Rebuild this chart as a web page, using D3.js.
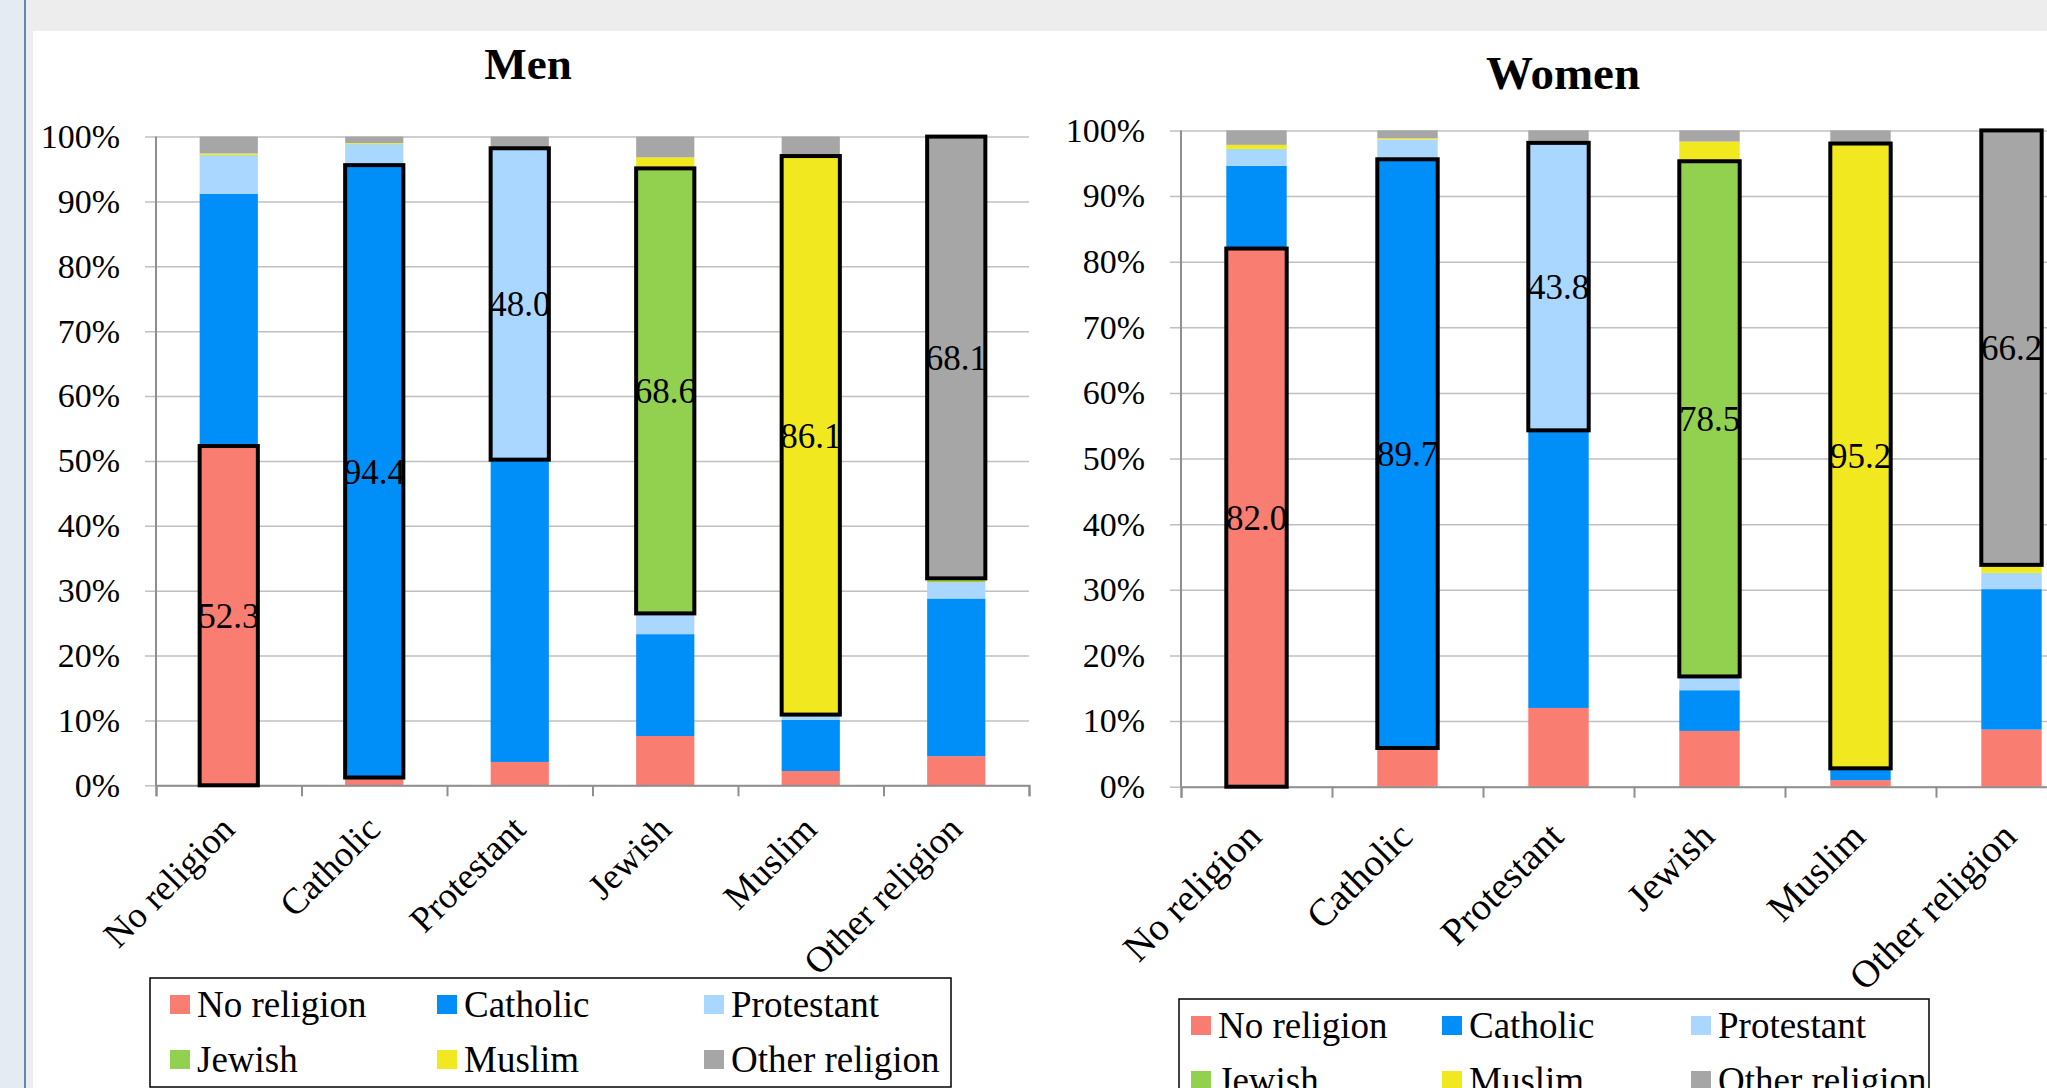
<!DOCTYPE html>
<html>
<head>
<meta charset="utf-8">
<script src="https://cdn.jsdelivr.net/npm/d3@7"></script>
<style>
  body { margin: 0; background: #fff; }
  svg, svg text { font-family: "Liberation Serif", "Times New Roman", serif; }
  svg { display: block; }
</style>
</head>
<body>
<div id="chart"></div>
<script>
// categories (x axis) - the same list is used for the stacked series
var categories = ["No religion", "Catholic", "Protestant", "Jewish", "Muslim", "Other religion"];
var colors = ["#fa7d71", "#008ef8", "#a9d7ff", "#92d050", "#f1e820", "#a6a6a6"];
var yTicks = [0, 10, 20, 30, 40, 50, 60, 70, 80, 90, 100];

// Men: share (%) of each religion, one array per stacked series
var menNoReligion = [52.3, 1.2, 3.6, 7.6, 2.2, 4.5];
var menCatholic   = [38.9, 94.4, 46.6, 15.7, 7.9, 24.3];
var menProtestant = [5.9, 3.2, 48.0, 3.2, 0.8, 2.5];
var menJewish     = [0.1, 0.1, 0.1, 68.6, 0.0, 0.2];
var menMuslim     = [0.2, 0.1, 0.1, 1.7, 86.1, 0.4];
var menOther      = [2.6, 1.0, 1.6, 3.2, 3.0, 68.1];

// Women
var womenNoReligion = [82.0, 5.9, 12.0, 8.5, 1.0, 8.7];
var womenCatholic   = [12.6, 89.7, 42.3, 6.2, 1.8, 21.4];
var womenProtestant = [2.5, 3.0, 43.8, 2.1, 0.0, 2.4];
var womenJewish     = [0.1, 0.0, 0.0, 78.5, 0.0, 0.1];
var womenMuslim     = [0.6, 0.2, 0.2, 3.0, 95.2, 1.2];
var womenOther      = [2.2, 1.2, 1.7, 1.7, 2.0, 66.2];

var W = 2047, H = 1088;

var svg = d3.select("#chart")
  .append("svg")
    .attr("width", W)
    .attr("height", H);

// page background, side bar and white chart sheet
svg.append("rect").attr("width", W).attr("height", H).attr("fill", "#ededed");
svg.append("rect").attr("width", 24).attr("height", H).attr("fill", "#e4ebf2");
svg.append("rect").attr("x", 24).attr("width", 2).attr("height", H).attr("fill", "#6186b0");
svg.append("rect").attr("x", 33).attr("y", 31).attr("width", W - 33).attr("height", H - 31).attr("fill", "#fff");

function drawPanel(p) {
  var g = svg.append("g");

  // build rows for the stack
  var rows = categories.map(function(c, i) {
    var row = {cat: c};
    categories.forEach(function(s, j) { row[s] = p.series[j][i]; });
    return row;
  });
  var stacked = d3.stack().keys(categories)(rows);

  var x = d3.scaleBand()
    .domain(categories)
    .range([p.x0, p.x1])
    .paddingInner(0.6)
    .paddingOuter(0.3);

  var y = d3.scaleLinear()
    .domain([0, 100])
    .range([p.yBottom, p.yTop]);

  // gridlines + y labels
  var yAxis = d3.axisLeft(y)
    .tickValues(yTicks)
    .tickFormat(function(d) { return d + "%"; })
    .tickSize(-(p.x1 - p.x0 + 11))
    .tickPadding(25);

  g.append("g")
    .attr("transform", "translate(" + (p.x0 - 11) + ",0)")
    .call(yAxis)
    .attr("font-family", null)
    .attr("font-size", null)
    .call(function(a) { a.select(".domain").remove(); })
    .call(function(a) { a.selectAll("line").attr("stroke", "#c0c0c0").attr("stroke-width", 1.5); })
    .call(function(a) { a.selectAll("text").attr("fill", "#000").style("font-size", "34px"); });

  // stacked bars
  g.selectAll(".layer")
    .data(stacked)
    .enter().append("g")
      .attr("fill", function(d, i) { return colors[i]; })
    .selectAll("rect")
    .data(function(d) { return d; })
    .enter().append("rect")
      .attr("x", function(d) { return x(d.data.cat); })
      .attr("y", function(d) { return y(d[1]); })
      .attr("width", x.bandwidth())
      .attr("height", function(d) { return y(d[0]) - y(d[1]); });

  // axis lines
  g.append("line")
    .attr("x1", p.x0).attr("x2", p.x0)
    .attr("y1", p.yTop).attr("y2", p.yBottom)
    .attr("stroke", "#8f8f8f").attr("stroke-width", 2);

  var xTicks = d3.scaleLinear().domain([0, categories.length]).range([p.x0, p.x1]);
  g.append("g")
    .attr("transform", "translate(0," + p.yBottom + ")")
    .call(d3.axisBottom(xTicks).tickValues(d3.range(categories.length + 1)).tickSize(11).tickFormat(""))
    .call(function(a) { a.selectAll("line,path").attr("stroke", "#8f8f8f").attr("stroke-width", 2); });

  // highlighted segment: series i inside category i
  var own = categories.map(function(c, i) { return stacked[i][i]; });
  g.selectAll(".own")
    .data(own)
    .enter().append("rect")
      .attr("x", function(d) { return x(d.data.cat); })
      .attr("y", function(d) { return y(d[1]); })
      .attr("width", x.bandwidth())
      .attr("height", function(d) { return y(d[0]) - y(d[1]); })
      .attr("fill", function(d, i) { return colors[i]; })
      .attr("stroke", "#000")
      .attr("stroke-width", 4);

  g.selectAll(".val")
    .data(own)
    .enter().append("text")
      .attr("x", function(d) { return x(d.data.cat) + x.bandwidth() / 2; })
      .attr("y", function(d) { return (y(d[0]) + y(d[1])) / 2; })
      .attr("dy", "0.35em")
      .attr("text-anchor", "middle")
      .attr("font-size", 35)
      .text(function(d) { return d3.format(".1f")(d[1] - d[0]); });

  // category labels, rotated
  g.selectAll(".cat")
    .data(categories)
    .enter().append("text")
      .attr("text-anchor", "end")
      .attr("font-size", p.catSize)
      .attr("transform", function(d) {
        return "translate(" + (x(d) + x.bandwidth() / 2 + p.catDx) + "," + (p.yBottom + p.catDy) + ") rotate(-45)";
      })
      .text(function(d) { return d; });

  // title
  g.append("text")
    .attr("x", p.titleX)
    .attr("y", p.titleY)
    .attr("text-anchor", "middle")
    .attr("font-weight", "bold")
    .attr("font-size", p.titleSize)
    .text(p.title);

  // legend
  var L = p.legend;
  g.append("rect")
    .attr("x", L.x).attr("y", L.y)
    .attr("width", L.w).attr("height", L.h)
    .attr("fill", "#fff").attr("stroke", "#000").attr("stroke-width", 1.5);

  var items = g.selectAll(".leg")
    .data(categories)
    .enter().append("g")
      .attr("transform", function(d, i) {
        return "translate(" + (L.x + L.cols[i % 3]) + "," + L.rows[Math.floor(i / 3)] + ")";
      });
  items.append("rect")
    .attr("y", -10).attr("width", 20).attr("height", 19)
    .attr("fill", function(d, i) { return colors[i]; });
  items.append("text")
    .attr("x", 27)
    .attr("dy", "0.33em")
    .attr("font-size", 37)
    .text(function(d) { return d; });
}

drawPanel({
  title: "Men",
  series: [menNoReligion, menCatholic, menProtestant, menJewish, menMuslim, menOther],
  x0: 156, x1: 1029, yTop: 136.6, yBottom: 785.3,
  titleX: 528, titleY: 79, titleSize: 45,
  catSize: 36.5, catDx: 8, catDy: 46,
  legend: {x: 150, y: 978, w: 801, h: 109, cols: [20, 287, 554], rows: [1005, 1060]}
});

drawPanel({
  title: "Women",
  series: [womenNoReligion, womenCatholic, womenProtestant, womenJewish, womenMuslim, womenOther],
  x0: 1181, x1: 2087, yTop: 130.4, yBottom: 786.7,
  titleX: 1563, titleY: 89, titleSize: 47,
  catSize: 38.5, catDx: 7, catDy: 52,
  legend: {x: 1179, y: 999, w: 750, h: 200, cols: [12, 263, 512], rows: [1026, 1081]}
});
</script>
</body>
</html>
